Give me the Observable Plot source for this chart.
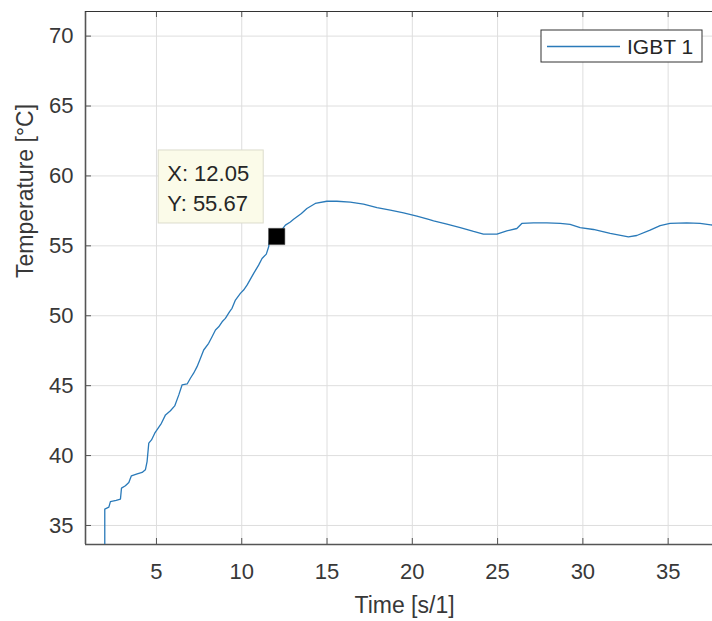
<!DOCTYPE html>
<html>
<head>
<meta charset="utf-8">
<script src="https://cdn.jsdelivr.net/npm/d3@7"></script>
<script src="https://cdn.jsdelivr.net/npm/@observablehq/plot@0.6"></script>
<style>
  html, body { margin: 0; padding: 0; background: #fff; }
  #chart { position: relative; width: 712px; height: 621px; overflow: hidden; }
  svg { font-family: "Liberation Sans", Arial, sans-serif; }
</style>
</head>
<body>
<div id="chart"></div>
<script>
// ---- data ----
const seriesName = "IGBT 1";
const time = [1.97,1.97,2.21,2.30,2.64,2.89,2.95,3.18,3.38,3.53,3.87,4.16,4.35,4.45,4.55,4.71,4.90,5.10,5.29,5.53,5.82,6.07,6.31,6.50,6.80,6.99,7.18,7.38,7.54,7.77,8.06,8.26,8.46,8.65,8.85,9.04,9.29,9.43,9.63,9.92,10.11,10.31,10.70,10.99,11.19,11.44,11.58,11.62,12.05,12.56,12.85,13.04,13.50,13.82,14.31,14.99,15.58,16.36,17.14,17.93,18.71,19.49,20.27,20.96,21.25,22.03,22.81,23.59,24.17,24.96,25.54,26.13,26.42,27.10,27.89,28.67,29.25,29.84,30.62,31.60,32.67,33.16,33.94,34.53,35.11,36.09,36.87,37.50,37.70];
const temp = [33.0,36.17,36.31,36.71,36.79,36.89,37.67,37.84,38.07,38.55,38.69,38.79,38.98,39.57,40.89,41.12,41.60,41.96,42.31,42.91,43.21,43.55,44.34,45.05,45.12,45.53,45.89,46.36,46.84,47.55,48.03,48.50,48.98,49.21,49.57,49.81,50.29,50.53,51.12,51.60,51.84,52.19,53.03,53.62,54.10,54.41,54.93,55.41,55.67,56.48,56.71,56.90,57.32,57.67,58.03,58.19,58.19,58.12,57.98,57.74,57.55,57.36,57.12,56.89,56.79,56.55,56.31,56.03,55.84,55.84,56.07,56.24,56.60,56.64,56.64,56.60,56.53,56.31,56.17,55.89,55.64,55.74,56.12,56.45,56.60,56.64,56.60,56.50,56.47];
const xTicks = [5, 10, 15, 20, 25, 30, 35];
const yTicks = [35, 40, 45, 50, 55, 60, 65, 70];
const xDomain = [0.84, 37.6];
const yDomain = [33.64, 71.76];
const tipX = 12.05;
const tipY = 55.67;
const xLabel = "Time [s/1]";
const yLabel = "Temperature [°C]";

const data = time.map((t, i) => ({t, T: temp[i]}));

const W = 712, H = 621;
const mL = 85, mT = 11, mR = 0, mB = 77;
const fw = W - mL - mR, fh = H - mT - mB;
const axisCol = "#555";
const textCol = "#383838";
const gridCol = "#dedede";
const lineCol = "#2a7ab9";

const plot = Plot.plot({
  width: W, height: H,
  marginLeft: mL, marginTop: mT, marginRight: mR, marginBottom: mB,
  x: {domain: xDomain},
  y: {domain: yDomain},
  style: {fontFamily: "'Liberation Sans', Arial, sans-serif", background: "#fff"},
  marks: [
    Plot.gridX(xTicks, {stroke: gridCol, strokeOpacity: 1}),
    Plot.gridY(yTicks, {stroke: gridCol, strokeOpacity: 1}),
    Plot.axisX(xTicks, {tickSize: 0, tickPadding: 19, fontSize: 22, fill: textCol, label: null}),
    Plot.axisY(yTicks, {tickSize: 0, tickPadding: 12, fontSize: 22, fill: textCol, label: null}),
    Plot.tickX(xTicks, {x: d => d, insetTop: fh - 6, stroke: axisCol, strokeWidth: 1}),
    Plot.tickX(xTicks, {x: d => d, insetBottom: fh - 6, stroke: axisCol, strokeWidth: 1}),
    Plot.tickY(yTicks, {y: d => d, insetRight: fw - 6, stroke: axisCol, strokeWidth: 1}),
    Plot.ruleX([xDomain[0]], {stroke: axisCol, strokeWidth: 1.6}),
    Plot.ruleY([yDomain[0]], {stroke: axisCol, strokeWidth: 1.6}),
    Plot.ruleY([yDomain[1]], {stroke: "#333", strokeWidth: 1}),
    Plot.line(data, {x: "t", y: "T", stroke: lineCol, strokeWidth: 1.3, clip: true}),
    Plot.dot([{t: tipX, T: tipY}], {x: "t", y: "T", symbol: "square", r: 9.2, fill: "#000", stroke: "#444", strokeWidth: 0.5}),
    Plot.text([xLabel], {frameAnchor: "bottom", dy: 61, dx: 5.5, text: d => d, fontSize: 23, fill: textCol, lineAnchor: "middle"}),
    Plot.text([yLabel], {frameAnchor: "left", dx: -60, rotate: -90, text: d => d, fontSize: 23, fill: textCol, lineAnchor: "middle"})
  ]
});

document.getElementById("chart").appendChild(plot);

// ---- data tip & legend drawn with positions derived from the plot's scales ----
const sx = plot.scale("x"), sy = plot.scale("y");
const px = sx.apply(tipX), py = sy.apply(tipY);
const svg = d3.select(plot);
const tip = svg.append("g").attr("font-family", "'Liberation Sans', Arial, sans-serif").attr("text-anchor", "start");
tip.append("rect")
  .attr("x", px - 118).attr("y", py - 86).attr("width", 105).attr("height", 73)
  .attr("fill", "#fbfbe9").attr("stroke", "#dcdccc").attr("stroke-width", 1);
tip.append("text").attr("x", px - 109).attr("y", py - 54.5).attr("text-anchor", "start")
  .attr("font-size", 22).attr("fill", "#262626").text("X: " + tipX.toFixed(2));
tip.append("text").attr("x", px - 109).attr("y", py - 24.5).attr("text-anchor", "start")
  .attr("font-size", 22).attr("fill", "#262626").text("Y: " + tipY.toFixed(2));

const rightEdge = sx.range[1];
const topEdge = sy.range[1];
const leg = svg.append("g").attr("font-family", "'Liberation Sans', Arial, sans-serif").attr("text-anchor", "start");
leg.append("rect")
  .attr("x", rightEdge - 171).attr("y", topEdge + 19).attr("width", 161).attr("height", 32)
  .attr("fill", "#fff").attr("stroke", "#333").attr("stroke-width", 1);
leg.append("line")
  .attr("x1", rightEdge - 165).attr("x2", rightEdge - 92)
  .attr("y1", topEdge + 35.5).attr("y2", topEdge + 35.5)
  .attr("stroke", lineCol).attr("stroke-width", 1.3);
leg.append("text").attr("x", rightEdge - 85).attr("y", topEdge + 35.5).attr("text-anchor", "start")
  .attr("dy", "0.36em").attr("font-size", 21).attr("fill", "#262626").text(seriesName);
</script>
</body>
</html>
